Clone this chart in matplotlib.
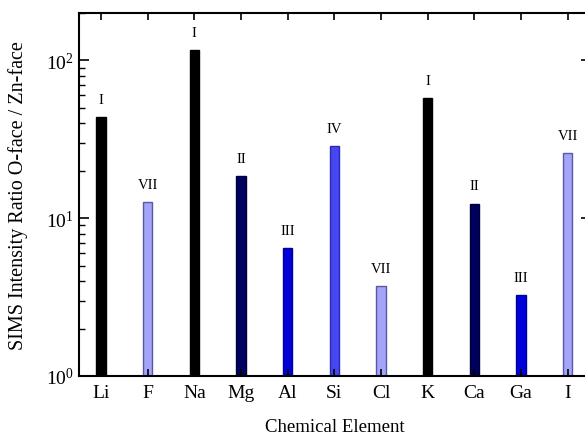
import matplotlib
matplotlib.use("Agg")
import matplotlib.pyplot as plt
from matplotlib.ticker import LogLocator, NullFormatter

plt.rcParams['font.family'] = ['Liberation Serif', 'DejaVu Serif']
plt.rcParams['mathtext.fontset'] = 'custom'
plt.rcParams['mathtext.rm'] = 'Liberation Serif'
plt.rcParams['mathtext.it'] = 'Liberation Serif:italic'

# data
elements = ['Li', 'F', 'Na', 'Mg', 'Al', 'Si', 'Cl', 'K', 'Ca', 'Ga', 'I']
ratios = [44, 12.7, 116, 18.4, 6.5, 28.7, 3.74, 58, 12.4, 3.28, 25.9]
groups = ['I', 'VII', 'I', 'II', 'III', 'IV', 'VII', 'I', 'II', 'III', 'VII']

group_colors = {'I': '#000000', 'II': '#00005e', 'III': '#0000d8',
                'IV': '#4646f2', 'VII': '#a4a4f8'}
group_edges = {'I': '#000000', 'II': '#000040', 'III': '#0000a0',
               'IV': '#2a2ab0', 'VII': '#5858a8'}

fig = plt.figure(figsize=(5.85, 4.35), dpi=100)
ax = fig.add_axes([79/585, 58/435, 512/585, 363/435])
ax.set_yscale('log')

x = list(range(len(elements)))
ax.bar(x, ratios, width=0.2,
       color=[group_colors[g] for g in groups],
       edgecolor=[group_edges[g] for g in groups], linewidth=1)

for xi, v, g in zip(x, ratios, groups):
    ax.annotate(g, (xi, v), xytext=(0, 8), textcoords='offset points',
                ha='center', va='bottom', fontsize=10.5)

ax.set_ylim(1, 200)
ax.set_xlim(-0.47, 10.5)
ax.yaxis.set_major_locator(LogLocator(base=10, numticks=5))
ax.yaxis.set_minor_locator(LogLocator(base=10, subs=range(2, 10), numticks=20))
ax.yaxis.set_minor_formatter(NullFormatter())

ax.set_xticks(x)
ax.set_xticklabels(elements)
ax.tick_params(axis='x', which='both', direction='in', top=True, length=5,
               width=1.2, labelsize=14, pad=6)
ax.tick_params(axis='y', which='major', direction='in', right=True, length=7,
               width=1.2, labelsize=14)
ax.tick_params(axis='y', which='minor', direction='in', right=True, length=4,
               width=1.0)

for s in ax.spines.values():
    s.set_linewidth(1.5)

ax.set_xlabel('Chemical Element', fontsize=13.5, labelpad=12)
ax.set_ylabel('SIMS Intensity Ratio O-face / Zn-face', fontsize=14.5, labelpad=13)

fig.savefig('out.png', dpi=100)
